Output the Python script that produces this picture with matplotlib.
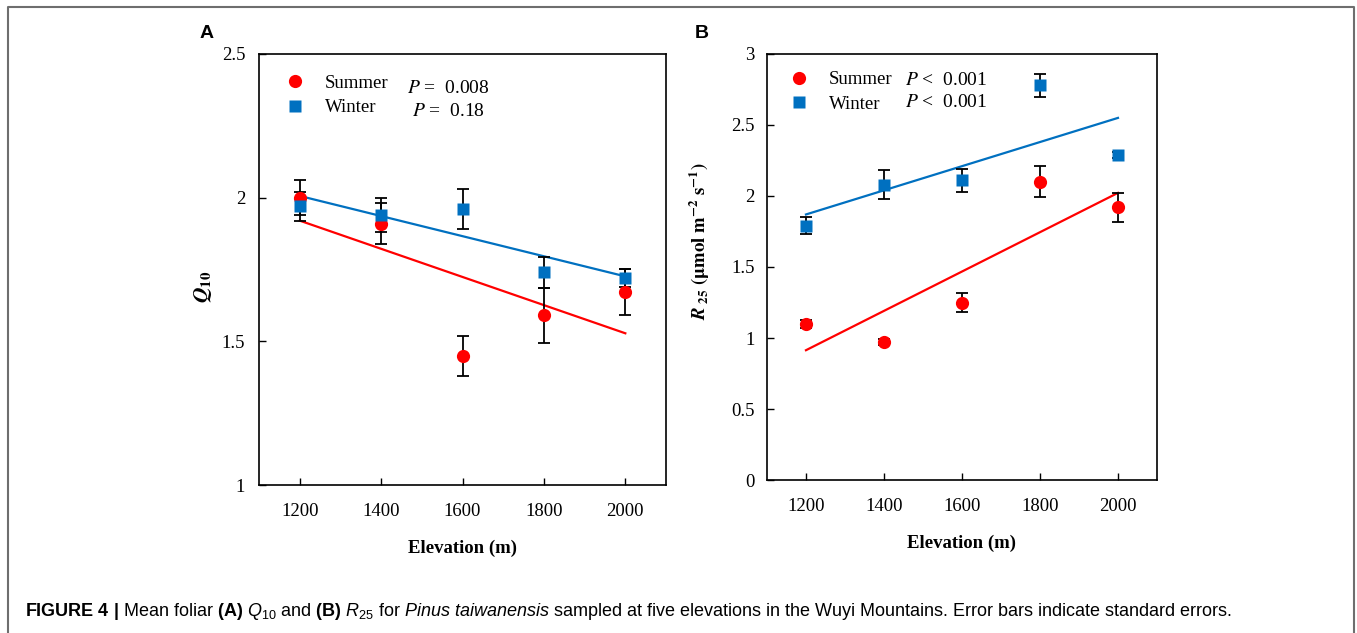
import numpy as np
import matplotlib
matplotlib.use('Agg')
import matplotlib.pyplot as plt
from matplotlib.lines import Line2D

plt.rcParams['font.family'] = 'Liberation Serif'
plt.rcParams['mathtext.fontset'] = 'custom'
plt.rcParams['mathtext.rm'] = 'Liberation Sans'
plt.rcParams['mathtext.it'] = 'Liberation Sans:italic'
plt.rcParams['mathtext.bf'] = 'Liberation Sans:bold'

# data
elevation = [1200, 1400, 1600, 1800, 2000]

q10_summer = [2.00, 1.91, 1.45, 1.59, 1.67]
q10_summer_se = [0.06, 0.07, 0.07, 0.095, 0.08]
q10_winter = [1.97, 1.94, 1.96, 1.74, 1.72]
q10_winter_se = [0.05, 0.06, 0.07, 0.055, 0.03]

r25_summer = [1.10, 0.97, 1.25, 2.10, 1.92]
r25_summer_se = [0.03, 0.02, 0.07, 0.11, 0.10]
r25_winter = [1.79, 2.08, 2.11, 2.78, 2.29]
r25_winter_se = [0.06, 0.10, 0.08, 0.08, 0.02]

p_text_a = ['$P$ =  0.008', '$P$ =  0.18']
p_text_b = ['$P$ <  0.001', '$P$ <  0.001']

red = '#FF0000'
blue = '#0070C0'
fs = 13.5

fig = plt.figure(figsize=(13.57, 6.33), dpi=100)
axA = fig.add_axes([0.1909, 0.2338, 0.2999, 0.6809])
axB = fig.add_axes([0.5652, 0.2417, 0.2874, 0.6730])


def panel(ax, ys, yse, yw, ywse):
    x = np.array(elevation)
    for y, color in [(ys, red), (yw, blue)]:
        k, b = np.polyfit(x, y, 1)
        ax.plot(x, k * x + b, color=color, lw=1.6, zorder=2)
    ax.errorbar(x, ys, yerr=yse, fmt='none', ecolor='black', elinewidth=1.3,
                capsize=4, capthick=1.3, zorder=3)
    ax.errorbar(x, yw, yerr=ywse, fmt='none', ecolor='black', elinewidth=1.3,
                capsize=4, capthick=1.3, zorder=3)
    h1, = ax.plot(x, ys, 'o', color=red, ms=9.5, mec='none', zorder=4, label='Summer')
    h2, = ax.plot(x, yw, 's', color=blue, ms=8.5, mec='none', zorder=5, label='Winter')
    ax.set_xlim(1100, 2100)
    ax.set_xticks(elevation)
    ax.tick_params(direction='in', length=5, width=1, labelsize=fs)
    ax.tick_params(axis='x', pad=13)
    for s in ax.spines.values():
        s.set_linewidth(1.2)
    ax.set_xlabel('Elevation (m)', fontsize=fs, fontweight='bold', labelpad=14)
    return h1, h2


hA = panel(axA, q10_summer, q10_summer_se, q10_winter, q10_winter_se)
axA.set_ylim(1, 2.5)
axA.set_yticks([1, 1.5, 2, 2.5])
axA.set_yticklabels(['1', '1.5', '2', '2.5'])
axA.tick_params(axis='y', pad=10)
axA.set_ylabel(r'$\mathbfit{Q}_{\mathbf{10}}$', fontsize=fs + 2, math_fontfamily='stix')
axA.yaxis.set_label_coords(-0.11, 0.46)

hB = panel(axB, r25_summer, r25_summer_se, r25_winter, r25_winter_se)
axB.set_ylim(0, 3)
axB.set_yticks([0, 0.5, 1, 1.5, 2, 2.5, 3])
axB.set_yticklabels(['0', '0.5', '1', '1.5', '2', '2.5', '3'])
axB.tick_params(axis='y', pad=9)
axB.set_ylabel(r'$\mathbfit{R}_{\ \mathbf{25}}\ \mathbf{(\mu mol\ m^{-2}\ s^{-1})}$',
               fontsize=fs, math_fontfamily='stix')
axB.yaxis.set_label_coords(-0.14, 0.56)

for ax, h, anchor in [(axA, hA, (0.065, 0.952)), (axB, hB, (0.058, 0.960))]:
    ax.legend(handles=list(h), loc='upper left', bbox_to_anchor=anchor, frameon=False,
              fontsize=fs, borderpad=0, borderaxespad=0, handlelength=1.0,
              handletextpad=1.1, labelspacing=0.4, numpoints=1)

axA.text(0.364, 0.919, p_text_a[0], transform=axA.transAxes, fontsize=fs + 0.5,
         va='center', math_fontfamily='stix')
axA.text(0.376, 0.866, p_text_a[1], transform=axA.transAxes, fontsize=fs + 0.5,
         va='center', math_fontfamily='stix')
axB.text(0.354, 0.937, p_text_b[0], transform=axB.transAxes, fontsize=fs + 0.5,
         va='center', math_fontfamily='stix')
axB.text(0.354, 0.885, p_text_b[1], transform=axB.transAxes, fontsize=fs + 0.5,
         va='center', math_fontfamily='stix')

fig.text(207 / 1357, 1 - 33 / 633, 'A', fontsize=14, fontweight='bold',
         family='Liberation Sans', ha='center', va='center')
fig.text(702 / 1357, 1 - 33 / 633, 'B', fontsize=14, fontweight='bold',
         family='Liberation Sans', ha='center', va='center')

caption = (r'$\mathbf{FIGURE\ 4\ |}$ Mean foliar $\mathbf{(A)}$ $Q_{10}$ and '
           r'$\mathbf{(B)}$ $R_{25}$ for $\mathit{Pinus\ taiwanensis}$ sampled at five '
           r'elevations in the Wuyi Mountains. Error bars indicate standard errors.')
fig.text(25 / 1357, 1 - 612 / 633, caption, fontsize=13, family='Liberation Sans',
         ha='left', va='center')

# outer frame
fx = [8 / 1357, 8 / 1357, 1354 / 1357, 1354 / 1357]
fy = [0, 1 - 7 / 633, 1 - 7 / 633, 0]
fig.add_artist(Line2D(fx, fy, transform=fig.transFigure, color='#6E6E6E', lw=1.5))

fig.savefig('out.png', dpi=100)
